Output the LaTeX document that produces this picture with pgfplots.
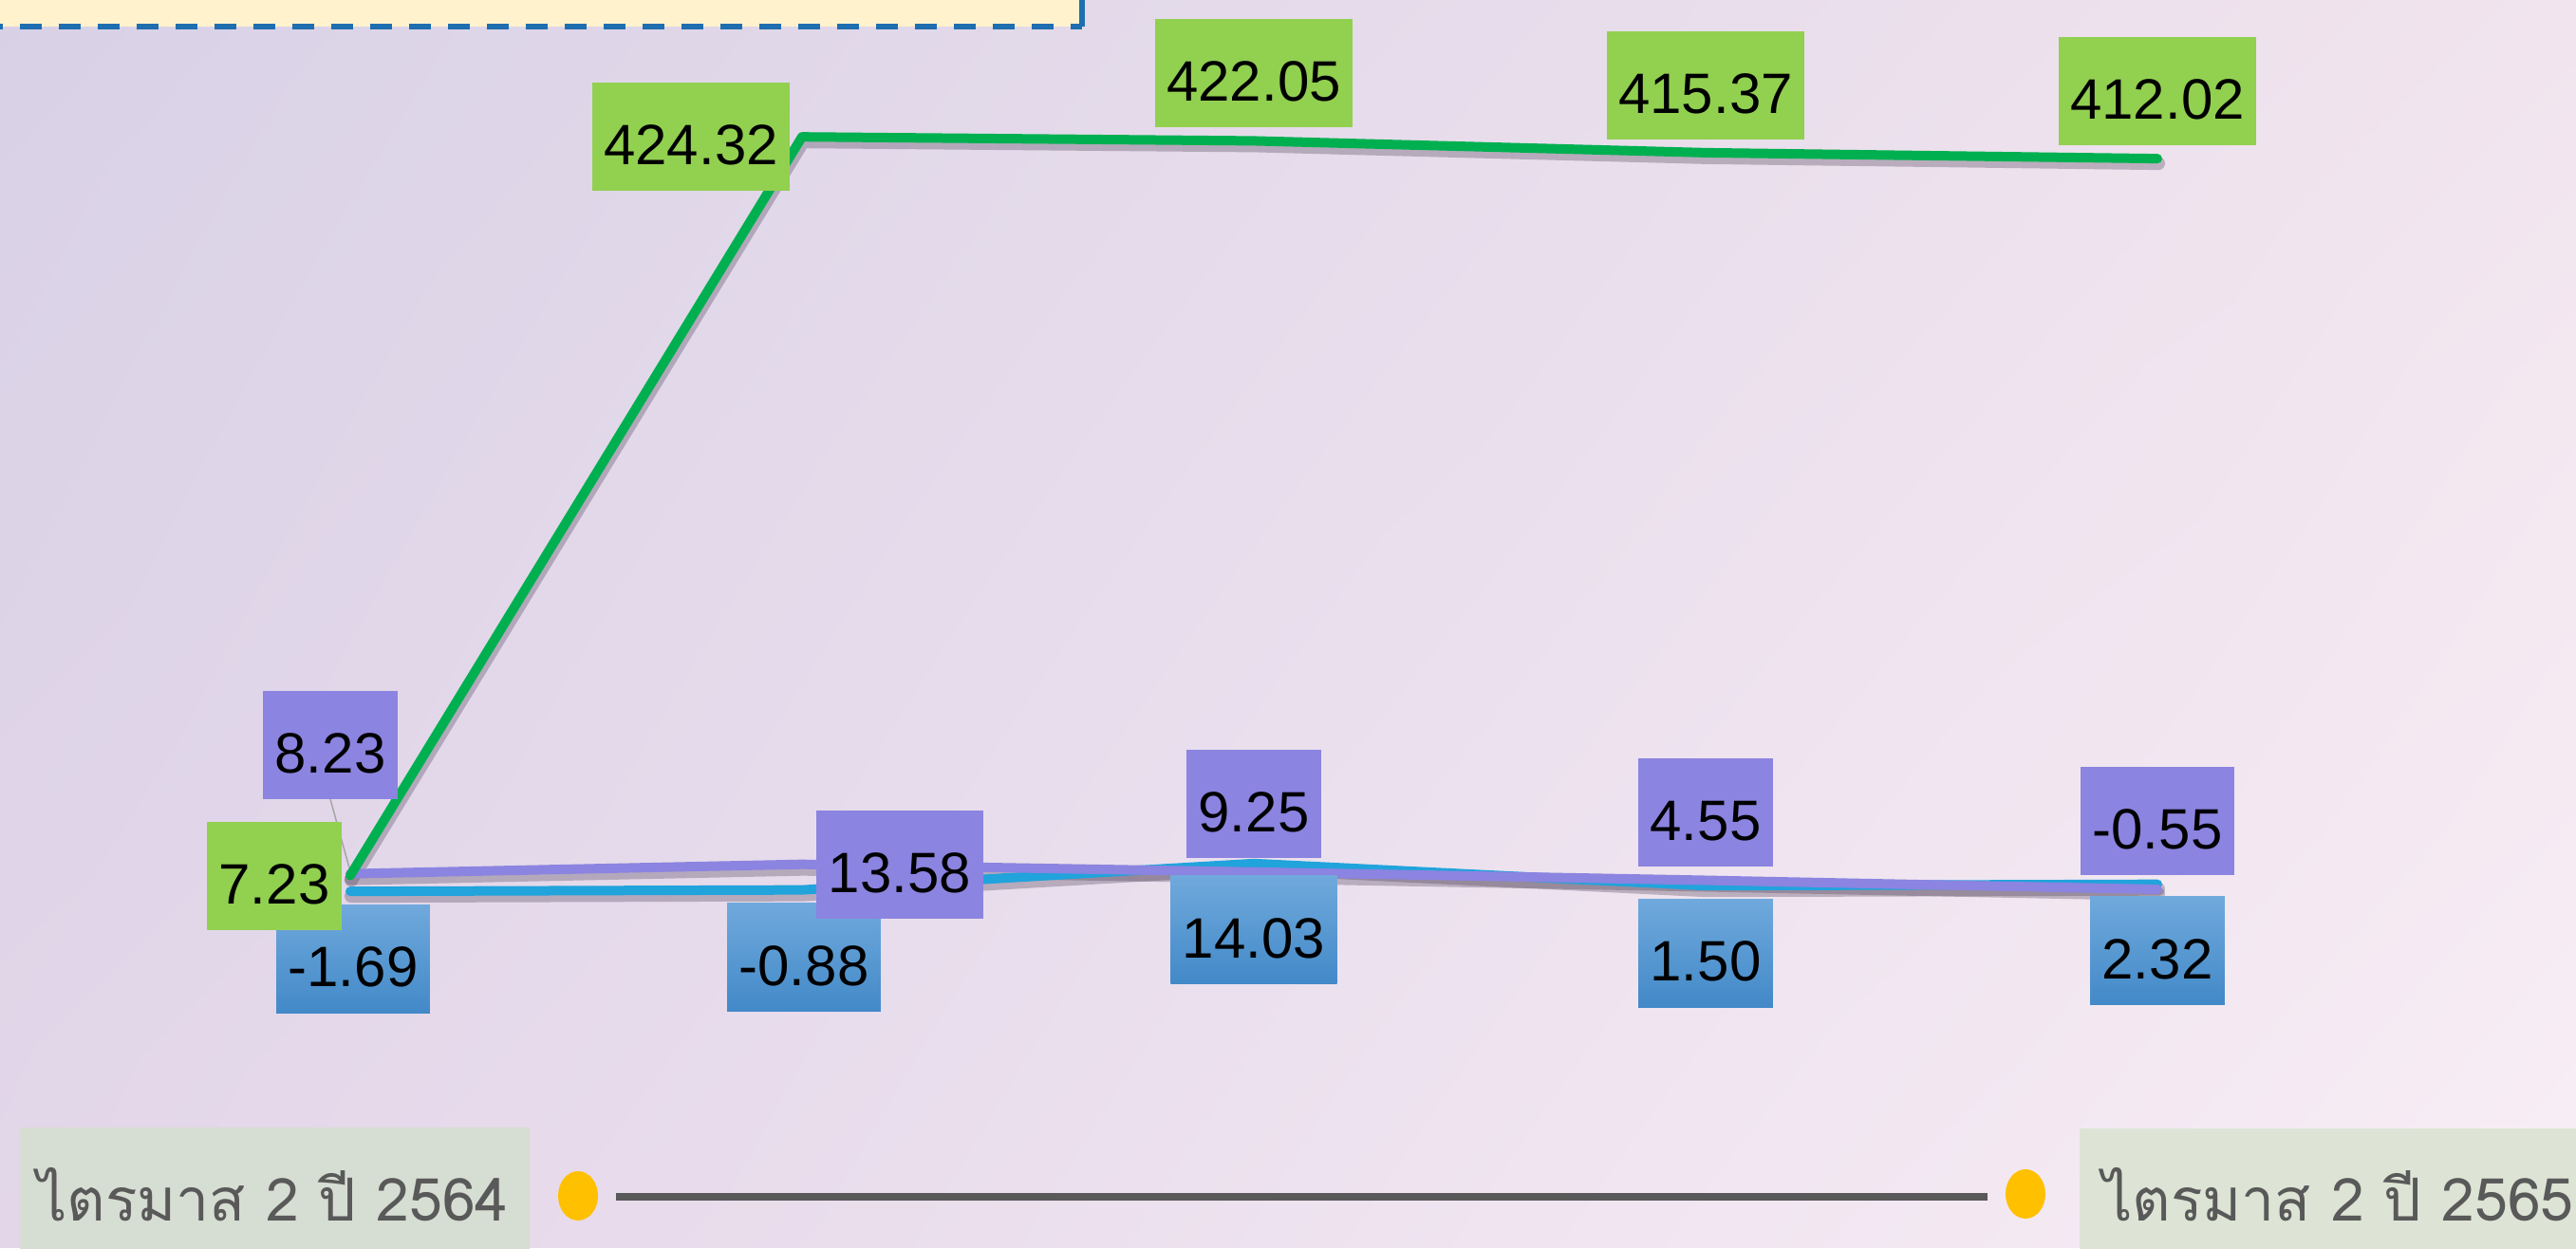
\documentclass[border=0pt]{standalone}
\usepackage{fontspec}
\setmainfont{Liberation Sans}
\newfontfamily\thaifont[Script=Thai]{Loma}
\usepackage{pgfplots}
\usepackage{pgfplotstable}
\pgfplotsset{compat=1.18}
\usetikzlibrary{shadings}

\definecolor{bgUL}{RGB}{216,209,230}
\definecolor{bgUR}{RGB}{241,228,238}
\definecolor{bgLL}{RGB}{227,214,233}
\definecolor{bgLR}{RGB}{248,238,245}
\definecolor{lnGreen}{RGB}{0,176,80}
\definecolor{lnPurple}{RGB}{139,132,224}
\definecolor{lnCyan}{RGB}{33,163,220}
\definecolor{boxGreen}{RGB}{146,208,80}
\definecolor{boxPurple}{RGB}{139,132,224}
\definecolor{boxBlueTop}{RGB}{112,169,220}
\definecolor{boxBlueBot}{RGB}{66,137,200}
\definecolor{noteFill}{RGB}{255,242,204}
\definecolor{noteLine}{RGB}{31,110,176}
\definecolor{qBoxL}{RGB}{214,221,210}
\definecolor{qBoxR}{RGB}{221,228,213}
\definecolor{qText}{RGB}{89,89,89}
\definecolor{dotYellow}{RGB}{255,192,0}
\definecolor{shadowCol}{RGB}{70,55,80}

% label offsets dx, dy in pixels of the 2714x1315 picture
\pgfplotstableread{
x y lab dx dy
0 7.23 7.23 -80 0
1 424.32 424.32 -117 0
2 422.05 422.05 0 71
3 415.37 415.37 0 71
4 412.02 412.02 0 71
}\greendata

\pgfplotstableread{
x y lab dx dy
0 8.23 8.23 -21 136
1 13.58 13.58 103 0
2 9.25 9.25 0 72
3 4.55 4.55 0 72
4 -0.55 -0.55 0 72
}\purpledata

\pgfplotstableread{
x y lab dx dy
0 -1.69 -1.69 3 -71
1 -0.88 -0.88 2 -71
2 14.03 14.03 0 -70
3 1.50 1.50 0 -71
4 2.32 2.32 0 -70
}\bluedata

\pgfplotsset{
  valbox/.style={
    point meta=explicit symbolic,
    nodes near coords={\pgfplotspointmeta},
    visualization depends on={\thisrow{dx}\as\dx},
    visualization depends on={\thisrow{dy}\as\dy},
    nodes near coords style={anchor=center, xshift=\dx*0.2pt, yshift=\dy*0.2pt,
      text=black, font=\fontsize{12}{14}\selectfont,
      text height=11.8pt, text depth=0pt,
      minimum height=22.8pt, inner xsep=2.5pt, inner ysep=0pt, #1},
  },
  series/.style={line width=2pt, line cap=round, line join=round, no markers},
  shadow/.style={shadowCol, opacity=#1, line width=2.8pt, line cap=round,
    line join=round, yshift=-1pt, xshift=0.2pt, no markers, forget plot},
}

\begin{document}
\begin{tikzpicture}
\useasboundingbox (0,0) rectangle (542.8pt,263pt);
\clip (0,0) rectangle (542.8pt,263pt);
\begin{scope}[x=0.2pt, y=-0.2pt, yshift=263pt]
  % background
  \shade[upper left=bgUL, upper right=bgUR, lower left=bgLL, lower right=bgLR]
    (0,0) rectangle (2714,1315);
  % note box cut off at the top
  \fill[noteFill] (-20,-60) rectangle (1140,28);
  \draw[noteLine, line width=1.2pt, dash pattern=on 4.6pt off 3.6pt]
    (-20,28) -- (1140,28);
  \draw[noteLine, line width=1.2pt] (1140,28) -- (1140,-10);
  % leader line of the first purple label
  \draw[gray!70, line width=0.3pt] (348,842) -- (369,918);
  % period bar at the bottom
  \fill[qBoxL] (21,1188) rectangle (558,1330);
  \fill[qBoxR] (2191,1189) rectangle (2730,1330);
  \node[anchor=base west, inner sep=0pt, text=qText,
    font=\thaifont\fontsize{12.5}{14}\selectfont] at (38,1287) {ไตรมาส 2 ปี 2564};
  \node[anchor=base west, inner sep=0pt, text=qText,
    font=\thaifont\fontsize{12.5}{14}\selectfont] at (2214,1287) {ไตรมาส 2 ปี 2565};
  \draw[qText, line width=1.6pt] (649,1261) -- (2094,1261);
  \fill[dotYellow] (609,1260) ellipse [x radius=21, y radius=26];
  \fill[dotYellow] (2134,1258) ellipse [x radius=21, y radius=26];
\end{scope}

\begin{axis}[
  at={(0,0)}, anchor=south west,
  width=542.8pt, height=263pt, scale only axis,
  xmin=-0.7752, xmax=4.9265,
  ymin=-203.1, ymax=501.6,
  hide axis, clip=false,
]
\addplot[shadow=0.3] table[x=x,y=y]{\bluedata};
\addplot[shadow=0.3] table[x=x,y=y]{\purpledata};
\addplot[shadow=0.3] table[x=x,y=y]{\greendata};

\addplot[series, lnCyan, valbox={top color=boxBlueTop, bottom color=boxBlueBot}]
  table[x=x,y=y,meta=lab]{\bluedata};
\addplot[series, lnPurple, valbox={fill=boxPurple}]
  table[x=x,y=y,meta=lab]{\purpledata};
\addplot[series, lnGreen, valbox={fill=boxGreen}]
  table[x=x,y=y,meta=lab]{\greendata};
\end{axis}
\end{tikzpicture}
\end{document}
